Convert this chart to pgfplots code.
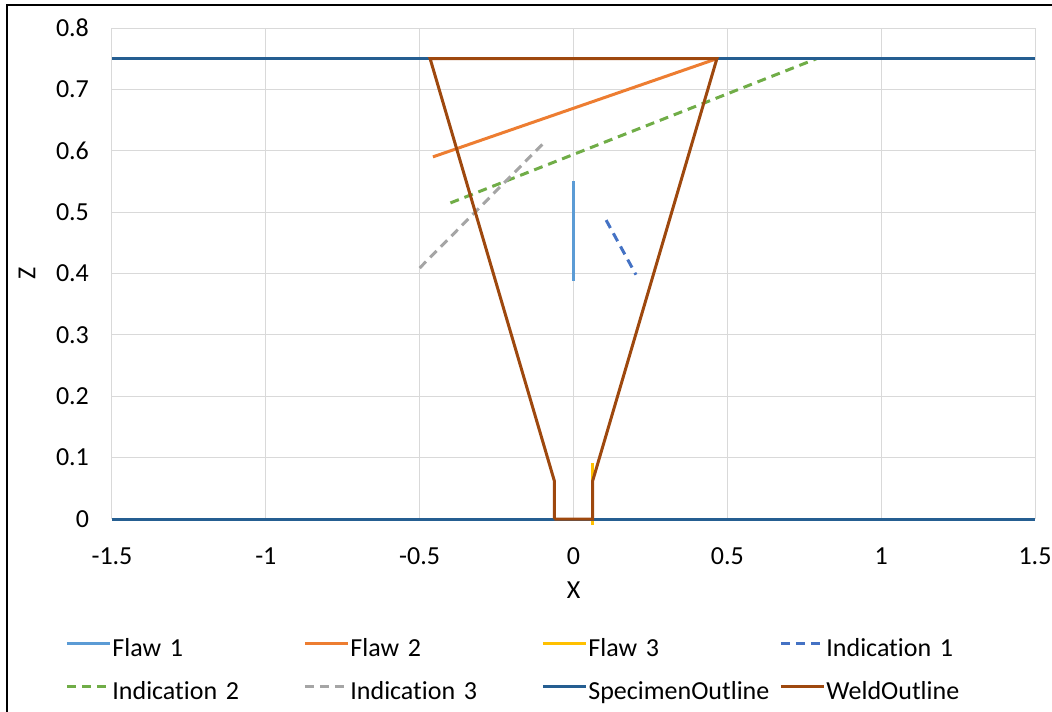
\documentclass[border=0pt]{standalone}
\usepackage{pgfplots}
\pgfplotsset{compat=1.18}
\usepackage{fontspec}
\setmainfont{Carlito}[Ligatures=NoCommon]
\definecolor{FlawA}{HTML}{5B9BD5}
\definecolor{FlawB}{HTML}{ED7D31}
\definecolor{FlawC}{HTML}{FFC000}
\definecolor{IndA}{HTML}{4472C4}
\definecolor{IndB}{HTML}{70AD47}
\definecolor{IndC}{HTML}{A5A5A5}
\definecolor{Specimen}{HTML}{255E91}
\definecolor{Weld}{HTML}{9E480E}
\definecolor{GridGray}{HTML}{D9D9D9}
\definecolor{AxisGray}{HTML}{BFBFBF}
\newcommand{\chartfont}{\fontsize{13}{15}\selectfont}
\newcommand{\legfont}{\fontsize{13}{15}\selectfont\hyphenpenalty=10000\relax}
\begin{document}
\begin{tikzpicture}
\begin{axis}[
    scale only axis,
    width=461.5pt, height=245.5pt,
    xmin=-1.5, xmax=1.5, ymin=0, ymax=0.8,
    xtick={-1.5,-1,-0.5,0,0.5,1,1.5},
    ytick={0,0.1,0.2,0.3,0.4,0.5,0.6,0.7,0.8},
    extra x ticks={0}, extra x tick labels={},
    extra x tick style={grid style={AxisGray, line width=0.6pt}},
    grid=major, major grid style={GridGray, line width=0.5pt},
    axis line style={draw=none}, tick style={draw=none},
    /pgf/number format/assume math mode=true,
    ticklabel style={font=\chartfont},
    xticklabel style={yshift=-11pt},
    yticklabel style={xshift=-8pt},
    xlabel={X}, ylabel={Z},
    label style={font=\chartfont},
    xlabel style={yshift=-1.5pt},
    ylabel style={yshift=3.5pt},
    clip=false,
    unbounded coords=jump,
    every axis plot/.append style={line width=1.5pt, mark=none},
    legend columns=4,
    legend cell align=left,
    legend style={at={(axis description cs:0,0)}, anchor=north west,
        xshift=-23.5pt, yshift=-59pt, draw=none, fill=none, inner sep=0pt,
        column sep=0pt, row sep=9pt,
        font=\legfont,
        nodes={text width=95pt, align=left, inner xsep=0.5pt, inner ysep=0pt,
               text height=9.5pt, text depth=3pt}},
    legend image code/.code={\draw[#1] (0pt,3.2pt) -- (21.5pt,3.2pt);},
]
\addplot[FlawA] coordinates {(0,0.388) (0,0.551)};
\addplot[FlawB] coordinates {(-0.457,0.590) (0.466,0.75)};
\addplot[FlawC] coordinates {(0.0625,-0.01) (0.0625,0.091)};
\addplot[IndA, dash pattern=on 4.5pt off 3pt] coordinates {(0.106,0.487) (0.203,0.398)};
\addplot[IndB, dash pattern=on 4.5pt off 3pt] coordinates {(-0.40,0.515) (0.79,0.75)};
\addplot[IndC, dash pattern=on 4.5pt off 3pt] coordinates {(-0.50,0.409) (-0.10,0.611)};
\addplot[Specimen] coordinates {(-1.5,0) (1.5,0) (nan,nan) (-1.5,0.75) (1.5,0.75)};
\addplot[Weld] coordinates {(-0.0625,0) (-0.0625,0.0625) (-0.466,0.75) (0.466,0.75)
    (0.0625,0.0625) (0.0625,0) (-0.0625,0)};
\legend{Flaw 1, Flaw 2, Flaw 3, Indication 1, Indication 2, Indication 3, SpecimenOutline, WeldOutline}
\coordinate (BL) at (rel axis cs:0,0);
\end{axis}
\pgfresetboundingbox
\path[use as bounding box] ([xshift=-56pt,yshift=-96pt]BL) rectangle ([xshift=470pt,yshift=259.5pt]BL);
\draw[black, line width=1pt] ([xshift=-52.5pt,yshift=-120pt]BL) rectangle ([xshift=490pt,yshift=257pt]BL);
\end{tikzpicture}
\end{document}
